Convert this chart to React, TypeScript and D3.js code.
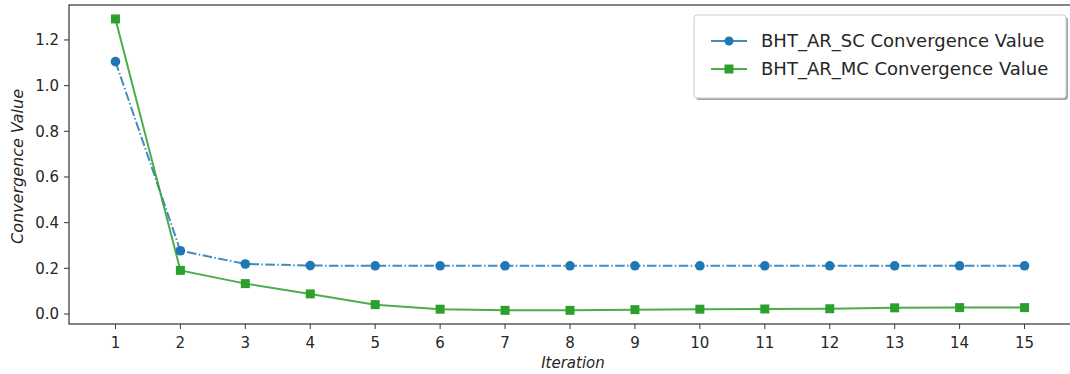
import React from "react";
import * as d3 from "d3";

const iterations = [1, 2, 3, 4, 5, 6, 7, 8, 9, 10, 11, 12, 13, 14, 15];
const scValues = [1.105, 0.277, 0.219, 0.212, 0.211, 0.211, 0.211, 0.211, 0.211, 0.211, 0.211, 0.211, 0.211, 0.211, 0.211];
const mcValues = [1.292, 0.191, 0.133, 0.088, 0.041, 0.021, 0.016, 0.016, 0.019, 0.021, 0.022, 0.023, 0.027, 0.028, 0.028];
const yTicks = [0.0, 0.2, 0.4, 0.6, 0.8, 1.0, 1.2];
const seriesNames = ["BHT_AR_SC Convergence Value", "BHT_AR_MC Convergence Value"];

const W = 1070;
const H = 374;
const margin = { top: 5, right: 0, bottom: 50, left: 69 };
const BLUE = "#1f77b4";
const GREEN = "#2ca02c";
const FONT = "DejaVu Sans, sans-serif";

export default function App() {
  // axes run a little past the right edge of the picture
  const x = d3.scaleLinear().domain([0.3, 15.7]).range([70, 1070]);
  const y = d3.scaleLinear().domain([-0.0438, 1.353]).range([H - margin.bottom, margin.top]);

  const line = d3
    .line<number>()
    .x((_, i) => x(iterations[i]))
    .y((d) => y(d));

  const bottom = H - margin.bottom;

  // legend box
  const lg = { x: 694, y: 15, w: 372, h: 83 };

  return (
    <div style={{ position: "fixed", left: 0, top: 0 }}>
      <svg width={W} height={H} style={{ display: "block", background: "#fff" }} fontFamily={FONT}>
        {/* series */}
        <path d={line(scValues) ?? ""} fill="none" stroke={BLUE} strokeOpacity={0.85} strokeWidth={2}
          strokeDasharray="9.6,2.4,1.5,2.4" />
        <path d={line(mcValues) ?? ""} fill="none" stroke={GREEN} strokeOpacity={0.85} strokeWidth={2} />
        {scValues.map((v, i) => (
          <circle key={"c" + i} cx={x(iterations[i])} cy={y(v)} r={4.8} fill={BLUE} />
        ))}
        {mcValues.map((v, i) => (
          <rect key={"s" + i} x={x(iterations[i]) - 4.5} y={y(v) - 4.5} width={9} height={9} fill={GREEN} />
        ))}

        {/* frame */}
        <rect x={margin.left} y={margin.top} width={W + 2 - margin.left} height={bottom - margin.top}
          fill="none" stroke="#333" strokeWidth={1.2} />

        {/* y axis */}
        {yTicks.map((t) => (
          <g key={t} transform={`translate(${margin.left},${y(t)})`}>
            <line x1={-5} x2={0} stroke="#333" />
            <text x={-10} dy="0.36em" textAnchor="end" fontSize={15} fill="#262626">{t.toFixed(1)}</text>
          </g>
        ))}
        {/* x axis */}
        {iterations.map((t) => (
          <g key={t} transform={`translate(${x(t)},${bottom})`}>
            <line y1={0} y2={5} stroke="#333" />
            <text y={24} textAnchor="middle" fontSize={15} fill="#262626">{t}</text>
          </g>
        ))}
        <text x={573} y={368} textAnchor="middle" fontSize={15} fontStyle="italic" fill="#262626">Iteration</text>
        <text transform={`translate(23,${(margin.top + bottom) / 2 + 2}) rotate(-90)`} textAnchor="middle" fontSize={16}
          fontStyle="italic" fill="#262626">Convergence Value</text>

        {/* legend */}
        <rect x={lg.x + 2} y={lg.y + 2} width={lg.w} height={lg.h} rx={3} fill="#000" fillOpacity={0.35} />
        <rect x={lg.x} y={lg.y} width={lg.w} height={lg.h} rx={3} fill="#fff" stroke="#ccc" />
        {seriesNames.map((name, i) => {
          const cy = 41 + i * 28;
          const color = i === 0 ? BLUE : GREEN;
          return (
            <g key={name}>
              <line x1={711} x2={747} y1={cy} y2={cy} stroke={color} strokeOpacity={0.85} strokeWidth={2} />
              {i === 0 ? (
                <circle cx={729} cy={cy} r={4.5} fill={color} />
              ) : (
                <rect x={724.5} y={cy - 4.5} width={9} height={9} fill={color} />
              )}
              <text x={761} y={cy} dy="0.36em" fontSize={18} fill="#262626">{name}</text>
            </g>
          );
        })}
      </svg>
    </div>
  );
}
